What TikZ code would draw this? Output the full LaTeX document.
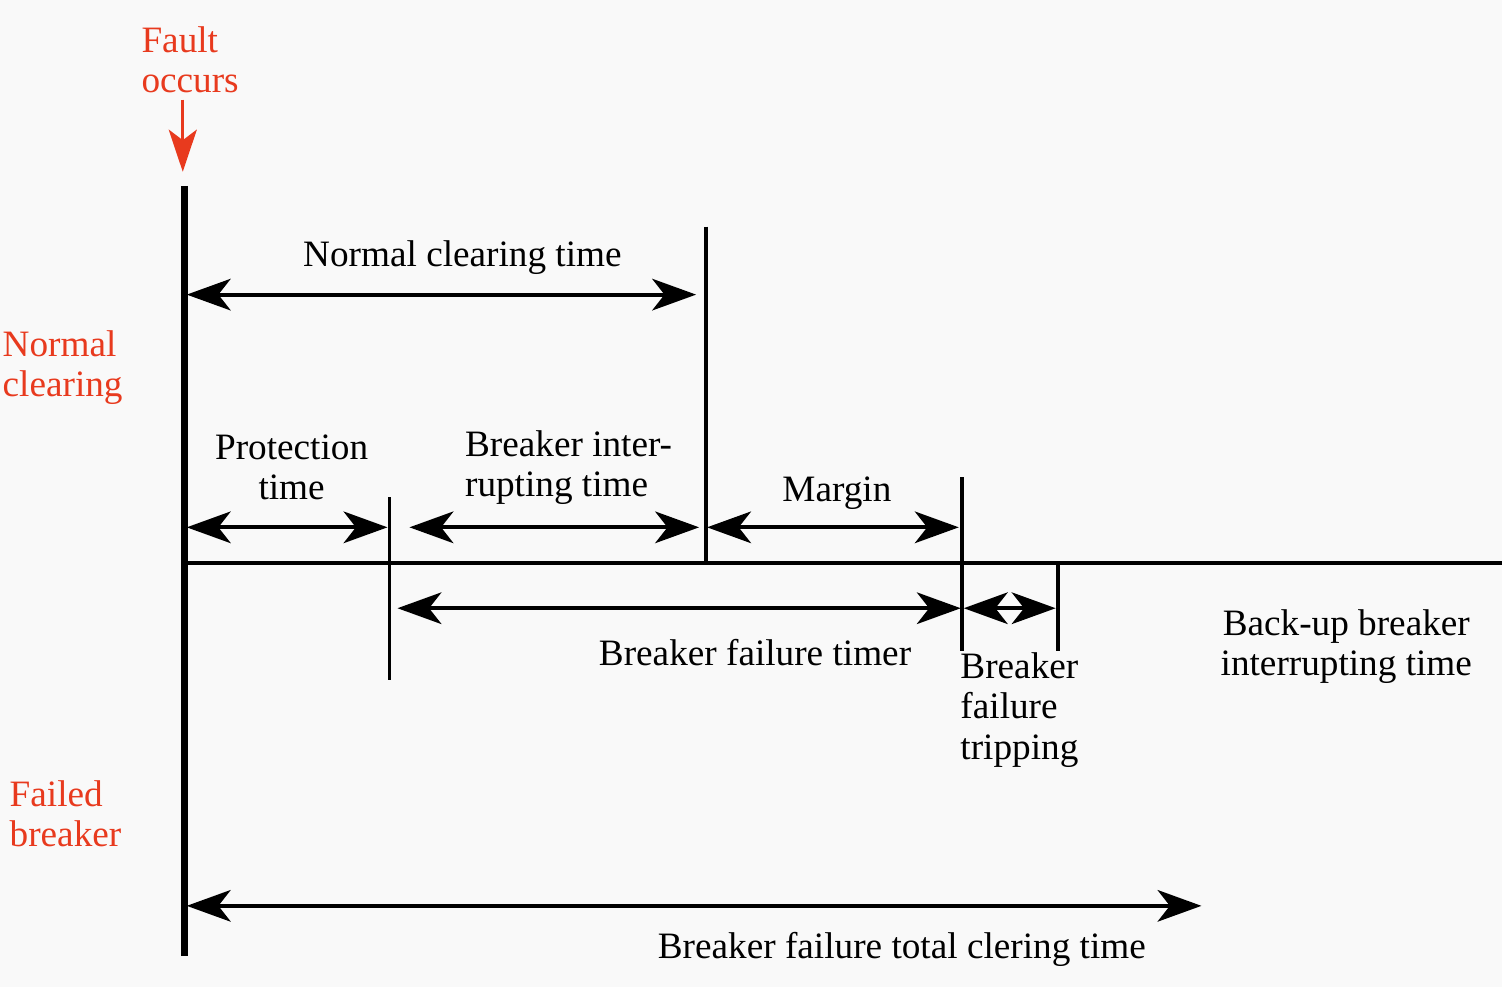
\documentclass[tikz,border=0pt]{standalone}
\usepackage{fontspec}
\setmainfont{Liberation Serif}
\usetikzlibrary{arrows.meta}
\definecolor{faultred}{RGB}{232,58,30}
\definecolor{paper}{RGB}{249,249,249}
\tikzset{
    >={Stealth[length=12.5pt, width=9pt, inset=3.5pt]},
    bar/.style={line width=2pt},
    axis/.style={line width=1.1pt},
    span/.style={<->, line width=1.1pt},
    hit/.style={-{Stealth[length=12pt, width=8pt, inset=3pt]}, faultred, line width=0.9pt},
    lbl/.style={inner sep=0pt, font=\fontsize{10.6}{11.4}\selectfont, align=center},
    note/.style={lbl, text=faultred, align=left, anchor=west},
    leftlbl/.style={lbl, align=left, anchor=west},
}

\begin{document}
\begin{tikzpicture}[x=0.01cm, y=-0.01cm]
    \fill[paper] (0,0) rectangle (1504,988);
    % time axis and ticks
    \coordinate (b0) at (185,186);
    \coordinate (b1) at (185,957);
    \coordinate (a0) at (185,564);
    \coordinate (a1) at (1504,564);
    \draw[bar] (b0) -- (b1);
    \draw[axis] (a0) -- (a1);
    \foreach \n/\x/\ya/\yb in {nc/707/227/564, pr/390/498/681, mg/963/478/652, tr/1059/564/652} {
        \coordinate (\n0) at (\x,\ya);
        \coordinate (\n1) at (\x,\yb);
        \draw[axis] (\n0) -- (\n1);
    }
    % labels
    \node[note] (fault) at (141,60) {Fault\\occurs};
    \node[note] (normal) at (2,368) {Normal\\clearing};
    \node[note] (failed) at (9,815) {Failed\\breaker};
    \node[lbl] (nct) at (463,258) {Normal clearing time};
    \node[lbl] (prot) at (292,468) {Protection\\time};
    \node[leftlbl] (bint) at (465,468) {Breaker inter-\\rupting time};
    \node[lbl] (marg) at (838,494) {Margin};
    \node[lbl] (bft) at (756,653) {Breaker failure timer};
    \node[leftlbl] (btrip) at (961,711) {Breaker\\failure\\tripping};
    \node[lbl] (backup) at (1348,647) {Back-up breaker\\interrupting time};
    \node[lbl] (total) at (903,951) {Breaker failure total clering time};
    % fault arrow
    \coordinate (f1) at (183,172);
    \draw[hit] (fault.south -| f1) ++(0,6) -- (f1);
    % spans
    \foreach \n/\xa/\xb/\y in {ncs/187/697/295, prs/187/388/528, bis/410/700/528,
                               mgs/708/960/528, bfs/398/962/609, trs/965/1057/609,
                               tts/187/1203/907} {
        \coordinate (\n0) at (\xa,\y);
        \coordinate (\n1) at (\xb,\y);
        \draw[span] (\n0) -- (\n1);
    }
\end{tikzpicture}
\end{document}
